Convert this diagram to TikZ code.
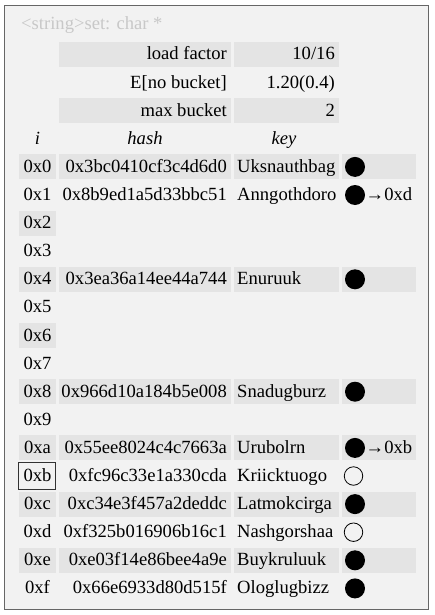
\documentclass[tikz,border=0pt]{standalone}
\usepackage{fontspec}
\setmainfont{Liberation Serif}
\definecolor{framebg}{HTML}{F2F2F2}
\definecolor{cellgray}{HTML}{E4E4E4}
\definecolor{titlegray}{HTML}{C8C8C8}
\definecolor{framegray}{HTML}{666666}
\newcommand\rowy[1]{(54.5+28.1*#1)}
\newcommand\cellshade[3]{\fill[cellgray] (#1,{54.5+28.1*#3-12.5}) rectangle (#2,{54.5+28.1*#3+12.5});}
\newcommand\idxnode[3]{\node[anchor=base] (#3) at (37.5,{\rowy{#1}+5.5}) {#2};}
\newcommand\hashnode[3]{\node[anchor=base east] (#3) at (227,{\rowy{#1}+5.5}) {#2};}
\newcommand\keynode[3]{\node[anchor=base west] (#3) at (237,{\rowy{#1}+5.5}) {#2};}
\newcommand\fullnode[2]{\node[fullmark] (#2) at (355,{\rowy{#1}}) {};}
\newcommand\hollownode[2]{\node[hollowmark] (#2) at (353.5,{\rowy{#1}}) {};}
\newcommand\nextnode[3]{\node[anchor=base west] (#3) at (365.5,{\rowy{#1}+5.5}) {→#2};}
\begin{document}
\begin{tikzpicture}[x=1pt,y=-1pt,
  every node/.style={inner sep=0pt, font=\fontsize{18.6}{21}\selectfont},
  fullmark/.style={circle, fill=black, minimum size=20pt},
  hollowmark/.style={circle, draw=black, line width=0.8pt, minimum size=18.5pt, fill=none}]
\useasboundingbox (0,0) rectangle (435,615);
\draw[framegray, line width=1.3pt, fill=framebg] (4.7,5.3) rectangle (428.7,609.3);
\node[anchor=base west, text=titlegray] (title) at (21,29.5) {<string>set: char *};
% stats
\cellshade{59}{231}{0}\cellshade{234}{339}{0}
\cellshade{59}{231}{2}\cellshade{234}{339}{2}
\node[anchor=base east] (lfl) at (227,{\rowy{0}+5.5}) {load factor};
\node[anchor=base east] (lfv) at (335,{\rowy{0}+5.5}) {10/16};
\node[anchor=base east] (enl) at (227,{\rowy{1}+5.5}) {E[no bucket]};
\node[anchor=base east] (env) at (335,{\rowy{1}+5.5}) {1.20(0.4)};
\node[anchor=base east] (mbl) at (227,{\rowy{2}+5.5}) {max bucket};
\node[anchor=base east] (mbv) at (335,{\rowy{2}+5.5}) {2};
% header
\node[anchor=base, font=\fontsize{18.6}{21}\selectfont\itshape] (hi) at (37.5,{\rowy{3}+5.5}) {i};
\node[anchor=base, font=\fontsize{18.6}{21}\selectfont\itshape] (hh) at (145,{\rowy{3}+5.5}) {hash};
\node[anchor=base, font=\fontsize{18.6}{21}\selectfont\itshape] (hk) at (284,{\rowy{3}+5.5}) {key};
% shading of even rows
\foreach \n in {4,6,8,10,12,14,16,18} {\cellshade{19}{56}{\n}}
\foreach \n in {4,8,12,14,16,18} {\cellshade{59}{231}{\n}\cellshade{234}{339}{\n}\cellshade{342}{416}{\n}}
% rows
\idxnode{4}{0x0}{i0}\hashnode{4}{0x3bc0410cf3c4d6d0}{h0}\keynode{4}{Uksnauthbag}{k0}\fullnode{4}{m0}
\idxnode{5}{0x1}{i1}\hashnode{5}{0x8b9ed1a5d33bbc51}{h1}\keynode{5}{Anngothdoro}{k1}\fullnode{5}{m1}\nextnode{5}{0xd}{n1}
\idxnode{6}{0x2}{i2}
\idxnode{7}{0x3}{i3}
\idxnode{8}{0x4}{i4}\hashnode{8}{0x3ea36a14ee44a744}{h4}\keynode{8}{Enuruuk}{k4}\fullnode{8}{m4}
\idxnode{9}{0x5}{i5}
\idxnode{10}{0x6}{i6}
\idxnode{11}{0x7}{i7}
\idxnode{12}{0x8}{i8}\hashnode{12}{0x966d10a184b5e008}{h8}\keynode{12}{Snadugburz}{k8}\fullnode{12}{m8}
\idxnode{13}{0x9}{i9}
\idxnode{14}{0xa}{ia}\hashnode{14}{0x55ee8024c4c7663a}{ha}\keynode{14}{Urubolrn}{ka}\fullnode{14}{ma}\nextnode{14}{0xb}{na}
\idxnode{15}{0xb}{ib}\hashnode{15}{0xfc96c33e1a330cda}{hb}\keynode{15}{Kriicktuogo}{kb}\hollownode{15}{mb}
\idxnode{16}{0xc}{ic}\hashnode{16}{0xc34e3f457a2deddc}{hc}\keynode{16}{Latmokcirga}{kc}\fullnode{16}{mc}
\idxnode{17}{0xd}{id}\hashnode{17}{0xf325b016906b16c1}{hd}\keynode{17}{Nashgorshaa}{kd}\hollownode{17}{md}
\idxnode{18}{0xe}{ie}\hashnode{18}{0xe03f14e86bee4a9e}{he}\keynode{18}{Buykruluuk}{ke}\fullnode{18}{me}
\idxnode{19}{0xf}{if}\hashnode{19}{0x66e6933d80d515f}{hf}\keynode{19}{Ologlugbizz}{kf}\fullnode{19}{mf}
% focus box around 0xb
\draw[black!80, line width=0.9pt] (18.5,{\rowy{15}-13.5}) rectangle (55.5,{\rowy{15}+13.5});
\end{tikzpicture}
\end{document}
